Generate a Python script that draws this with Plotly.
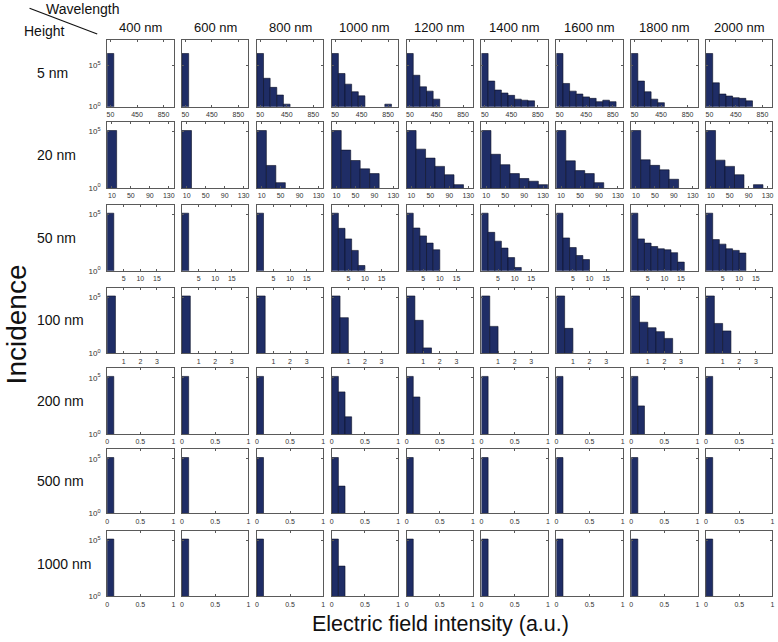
import plotly.graph_objects as go

W, H = 778, 642

# ---------------- data ----------------
wavelengths = ["400 nm", "600 nm", "800 nm", "1000 nm", "1200 nm",
               "1400 nm", "1600 nm", "1800 nm", "2000 nm"]
heights = ["5 nm", "20 nm", "50 nm", "100 nm", "200 nm", "500 nm", "1000 nm"]

# histogram bin centres for each height row
bins_5nm = [50, 150, 250, 350, 450, 550, 650, 750, 850, 950]
bins_20nm = [10, 30, 50, 70, 90, 110, 130]
bins_50nm = [1, 3, 5, 7, 9, 11, 13, 15, 17, 19]
bins_100nm = [0.25, 0.75, 1.25, 1.75, 2.25, 2.75, 3.25, 3.75]
bins_small = [0.05, 0.15, 0.25, 0.35, 0.45, 0.55, 0.65, 0.75, 0.85, 0.95]

# counts per wavelength (one list per panel) for each height
counts_5nm = [
    [2.5e6],
    [2.5e6],
    [2.5e6, 2600, 210, 25, 2],
    [2.5e6, 9800, 510, 62, 20, 0, 0, 0, 2],
    [2.5e6, 6000, 245, 74, 8],
    [2.5e6, 1200, 100, 44, 23, 8, 6, 5],
    [2.5e6, 620, 74, 33, 15, 10, 4, 6, 4],
    [2.5e6, 1200, 62, 8, 3],
    [2.5e6, 740, 33, 19, 12, 10, 5],
]
counts_20nm = [
    [1.25e5],
    [1.25e5],
    [1.25e5, 100, 3],
    [1.25e5, 2300, 275, 50, 19],
    [1.25e5, 2800, 450, 83, 15, 2],
    [1.25e5, 980, 117, 19, 7, 4, 2],
    [1.25e5, 257, 35, 19, 3],
    [1.25e5, 316, 102, 41, 6],
    [1.25e5, 295, 83, 15, 0, 2],
]
counts_50nm = [
    [1.3e5],
    [1.3e5],
    [1.3e5],
    [1.3e5, 5900, 680, 65, 3],
    [1.3e5, 6300, 1260, 290, 74],
    [1.3e5, 2600, 430, 105, 15, 2],
    [1.3e5, 830, 117, 23, 10],
    [1.3e5, 680, 290, 145, 91, 74, 41, 6],
    [1.3e5, 590, 235, 91, 65, 38],
]
counts_100nm = [
    [1.3e5],
    [1.3e5],
    [1.3e5],
    [1.3e5, 1500],
    [1.3e5, 870, 3],
    [1.3e5, 250],
    [1.3e5, 166],
    [1.3e5, 590, 190, 85, 21],
    [1.3e5, 457, 98],
]
counts_200nm = [
    [1.3e5], [1.3e5], [1.3e5],
    [1.3e5, 5500, 34],
    [1.3e5, 1950],
    [1.3e5], [1.3e5],
    [1.3e5, 316],
    [1.3e5],
]
counts_500nm = [
    [1.3e5], [1.3e5], [1.3e5],
    [1.3e5, 316],
    [1.3e5], [1.3e5], [1.3e5], [1.3e5], [1.3e5],
]
counts_1000nm = [
    [1.3e5], [1.3e5], [1.3e5],
    [1.3e5, 500],
    [1.3e5], [1.3e5], [1.3e5], [1.3e5], [1.3e5],
]

x_ticks_5nm = [50, 450, 850]
x_ticks_20nm = [10, 50, 90, 130]
x_ticks_50nm = [5, 10, 15]
x_ticks_100nm = [1, 2, 3]
x_ticks_small = [0, 0.5, 1]
x_ticklabels_small = ["0", "0.5", "1"]

y_tickvals = [1, 1e5]
y_ticktext = ["10<sup>0</sup>", "10<sup>5</sup>"]

# ---------------- layout / styling ----------------
rows = [
    dict(bins=bins_5nm, counts=counts_5nm, width=100, xr=[0, 1000], xt=x_ticks_5nm, xtt=None, yr=[0, 8]),
    dict(bins=bins_20nm, counts=counts_20nm, width=20, xr=[0, 140], xt=x_ticks_20nm, xtt=None, yr=[0, 5.85]),
    dict(bins=bins_50nm, counts=counts_50nm, width=2, xr=[0, 20], xt=x_ticks_50nm, xtt=None, yr=[0, 5.85]),
    dict(bins=bins_100nm, counts=counts_100nm, width=0.5, xr=[0, 4], xt=x_ticks_100nm, xtt=None, yr=[0, 5.85]),
    dict(bins=bins_small, counts=counts_200nm, width=0.1, xr=[0, 1], xt=x_ticks_small, xtt=x_ticklabels_small, yr=[0, 5.85]),
    dict(bins=bins_small, counts=counts_500nm, width=0.1, xr=[0, 1], xt=x_ticks_small, xtt=x_ticklabels_small, yr=[0, 5.85]),
    dict(bins=bins_small, counts=counts_1000nm, width=0.1, xr=[0, 1], xt=x_ticks_small, xtt=x_ticklabels_small, yr=[0, 5.85]),
]

row_top = [40.5, 123, 206.5, 290, 371, 453, 535]
row_bot = [107.5, 189.5, 273, 356, 437.5, 517.5, 601]
col_left0, col_pitch, panel_w = 105.7, 75.25, 66.7


def px(X):
    return X / W


def py(Y):
    return 1 - Y / H


BAR = "#1f2d66"
FRAME = "#5a5a5a"
FONT = "Liberation Sans, Arial, Helvetica, sans-serif"

fig = go.Figure()
layout = dict(
    width=W, height=H,
    margin=dict(l=0, r=0, t=0, b=0),
    paper_bgcolor="white", plot_bgcolor="white",
    showlegend=False,
    font=dict(family=FONT, color="#222"),
    annotations=[], shapes=[],
)

k = 0
for r, spec in enumerate(rows):
    for c in range(len(wavelengths)):
        k += 1
        xa = "x" if k == 1 else f"x{k}"
        ya = "y" if k == 1 else f"y{k}"
        left = col_left0 + c * col_pitch
        xd = [px(left), px(left + panel_w)]
        yd = [py(row_bot[r]), py(row_top[r])]
        vals = spec["counts"][c]
        xs = spec["bins"][:len(vals)]
        ys = [v if v > 0 else None for v in vals]
        fig.add_trace(go.Bar(
            x=xs, y=ys, width=spec["width"],
            marker=dict(color=BAR, line=dict(color="#0a0f25", width=0.6)),
            xaxis=xa, yaxis=ya, hoverinfo="skip",
        ))
        xkey = "xaxis" if k == 1 else f"xaxis{k}"
        ykey = "yaxis" if k == 1 else f"yaxis{k}"
        xaxis = dict(
            domain=xd, anchor=ya, range=spec["xr"],
            tickvals=spec["xt"], showgrid=False, zeroline=False,
            showline=True, linecolor=FRAME, linewidth=1, mirror="ticks",
            ticks="inside", ticklen=2, tickcolor=FRAME,
            tickfont=dict(size=7, color="#333"), ticklabelstandoff=1,
            fixedrange=True,
        )
        if spec["xtt"] is not None:
            xaxis["ticktext"] = spec["xtt"]
        layout[xkey] = xaxis
        layout[ykey] = dict(
            domain=yd, anchor=xa, type="log", range=spec["yr"],
            tickvals=y_tickvals, ticktext=y_ticktext,
            showticklabels=(c == 0), showgrid=False, zeroline=False,
            showline=True, linecolor=FRAME, linewidth=1, mirror="ticks",
            ticks="inside", ticklen=2, tickcolor=FRAME,
            tickfont=dict(size=8, color="#333"), ticklabelstandoff=4,
            fixedrange=True,
        )

ann = layout["annotations"]
for c, wl in enumerate(wavelengths):
    cx = col_left0 + c * col_pitch + panel_w / 2
    ann.append(dict(text=wl, x=px(cx), y=py(28), xref="paper", yref="paper",
                    xanchor="center", yanchor="middle", showarrow=False,
                    font=dict(size=13, color="#111")))
for r, hname in enumerate(heights):
    cy = (row_top[r] + row_bot[r]) / 2
    ann.append(dict(text=hname, x=px(33), y=py(cy), xref="paper", yref="paper",
                    xanchor="left", yanchor="middle", showarrow=False,
                    font=dict(size=14, color="#111")))
ann.append(dict(text="Wavelength", x=px(81), y=py(9), xref="paper", yref="paper",
                xanchor="center", yanchor="middle", showarrow=False,
                font=dict(size=14, color="#111")))
ann.append(dict(text="Height", x=px(42.5), y=py(31), xref="paper", yref="paper",
                xanchor="center", yanchor="middle", showarrow=False,
                font=dict(size=14, color="#111")))
ann.append(dict(text="Incidence", x=px(15), y=py(327), xref="paper", yref="paper",
                xanchor="center", yanchor="middle", showarrow=False, textangle=-90,
                font=dict(size=28, color="#111")))
ann.append(dict(text="Electric field intensity (a.u.)", x=px(441), y=py(629),
                xref="paper", yref="paper", xanchor="center", yanchor="middle",
                showarrow=False, font=dict(size=21.5, color="#111")))

layout["shapes"].append(dict(type="line", xref="paper", yref="paper",
                             x0=px(27.7), y0=py(8.3), x1=px(95.7), y1=py(34.3),
                             line=dict(color="#111", width=1.2)))

fig.update_layout(**layout)
fig.write_html("out.html",
               config={"displayModeBar": False, "staticPlot": True},
               post_script="document.body.style.margin='0px';document.body.style.overflow='hidden';")
